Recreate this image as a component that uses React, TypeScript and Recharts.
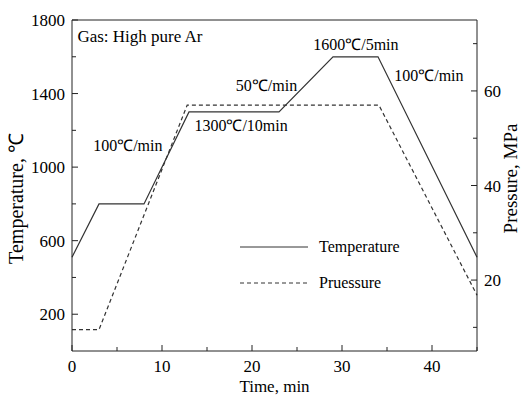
import {
    LineChart,
    Line,
    XAxis,
    YAxis,
    ReferenceLine,
    ReferenceDot,
    Legend,
} from 'recharts';

// Heating schedule (time in min, temperature in ℃)
const tempTime = [0, 3, 8, 13, 23, 29, 34, 45];
const tempValue = [510, 800, 800, 1300, 1300, 1600, 1600, 510];

// Pressure schedule (time in min, pressure in MPa)
const pressTime = [0, 3, 12.8, 34.1, 45];
const pressValue = [9.5, 9.5, 57, 57, 16.8];

const timeTicks = [0, 5, 10, 15, 20, 25, 30, 35, 40, 45];
const tempTicks = [200, 400, 600, 800, 1000, 1200, 1400, 1600, 1800];
const pressTicks = [10, 20, 30, 40, 50, 60, 70];

const seriesNames = ['Temperature', 'Pruessure'];

const annotations = [
    { time: 0.6, temp: 1682, text: 'Gas: High pure Ar', size: 17 },
    { time: 2.35, temp: 1088, text: '100℃/min', size: 16 },
    { time: 13.6, temp: 1196, text: '1300℃/10min', size: 16 },
    { time: 18.2, temp: 1414, text: '50℃/min', size: 16 },
    { time: 26.8, temp: 1637, text: '1600℃/5min', size: 16 },
    { time: 35.8, temp: 1468, text: '100℃/min', size: 16 },
];

const FONT = '"Liberation Serif", "Times New Roman", serif';
const INK = '#222';

const tempData = tempTime.map((t, i) => ({ time: t, temp: tempValue[i] }));
const pressData = pressTime.map((t, i) => ({ time: t, pressure: pressValue[i] }));

// ticks point inward; labels only on the major ones
const XTick = ({ x, y, payload }: any) => {
    const major = payload.value % 10 === 0;
    return (
        <g>
            <line x1={x} x2={x} y1={y} y2={y - (major ? 6 : 4)} stroke={INK} />
            {major && (
                <text x={x} y={y + 21} textAnchor="middle" fontFamily={FONT} fontSize={17} fill="#000">
                    {payload.value}
                </text>
            )}
        </g>
    );
};

const TempTick = ({ x, y, payload }: any) => {
    const major = payload.value % 400 === 200;
    return (
        <g>
            <line x1={x} x2={x + (major ? 6 : 4)} y1={y} y2={y} stroke={INK} />
            {major && (
                <text x={x - 7} y={y + 6} textAnchor="end" fontFamily={FONT} fontSize={17} fill="#000">
                    {payload.value}
                </text>
            )}
        </g>
    );
};

const PressTick = ({ x, y, payload }: any) => {
    const major = payload.value % 20 === 0;
    return (
        <g>
            <line x1={x} x2={x - (major ? 6 : 4)} y1={y} y2={y} stroke={INK} />
            {major && (
                <text x={x + 7} y={y + 6} textAnchor="start" fontFamily={FONT} fontSize={17} fill="#000">
                    {payload.value}
                </text>
            )}
        </g>
    );
};

const LegendBox = ({ payload }: any) => {
    const items = [...(payload || [])].sort(
        (a: any, b: any) => seriesNames.indexOf(a.value) - seriesNames.indexOf(b.value)
    );
    return (
        <div style={{ fontFamily: FONT, fontSize: 16, color: '#000' }}>
            {items.map((entry: any) => (
                <div key={entry.value} style={{ display: 'flex', alignItems: 'center', height: 20, marginBottom: 16 }}>
                    <svg width={68} height={20}>
                        <line
                            x1={0}
                            x2={68}
                            y1={10}
                            y2={10}
                            stroke={entry.color}
                            strokeDasharray={entry.payload?.strokeDasharray}
                        />
                    </svg>
                    <span style={{ marginLeft: 11 }}>{entry.value}</span>
                </div>
            ))}
        </div>
    );
};

export default function App() {
    return (
        <div style={{ position: 'absolute', left: 0, top: 0, background: '#fff' }}>
            <LineChart width={521} height={395} margin={{ top: 20, right: 0, bottom: 0, left: 0 }}>
                <XAxis
                    dataKey="time"
                    type="number"
                    domain={[0, 45]}
                    ticks={timeTicks}
                    interval={0}
                    tick={<XTick />}
                    tickLine={false}
                    tickSize={0}
                    tickMargin={0}
                    height={44}
                    stroke={INK}
                    allowDuplicatedCategory={false}
                    label={(props: any) => {
                        const vb = props.viewBox;
                        return (
                            <text x={vb.x + vb.width / 2} y={vb.y + 41} textAnchor="middle" fontFamily={FONT} fontSize={17} fill="#000">
                                Time, min
                            </text>
                        );
                    }}
                />
                <YAxis
                    yAxisId="temp"
                    orientation="left"
                    domain={[0, 1800]}
                    ticks={tempTicks}
                    interval={0}
                    tick={<TempTick />}
                    tickLine={false}
                    tickSize={0}
                    tickMargin={0}
                    width={72}
                    stroke={INK}
                    label={(props: any) => {
                        const vb = props.viewBox;
                        const cx = vb.x + 16;
                        const cy = vb.y + vb.height / 2 + 13;
                        return (
                            <text x={cx} y={cy} transform={`rotate(-90 ${cx} ${cy})`} textAnchor="middle" dominantBaseline="central" fontFamily={FONT} fontSize={20} fill="#000">
                                Temperature, ℃
                            </text>
                        );
                    }}
                />
                <YAxis
                    yAxisId="press"
                    orientation="right"
                    domain={[5, 75]}
                    ticks={pressTicks}
                    interval={0}
                    tick={<PressTick />}
                    tickLine={false}
                    tickSize={0}
                    tickMargin={0}
                    width={44}
                    stroke={INK}
                    label={(props: any) => {
                        const vb = props.viewBox;
                        const cx = vb.x + 33;
                        const cy = vb.y + vb.height / 2 - 7;
                        return (
                            <text x={cx} y={cy} transform={`rotate(-90 ${cx} ${cy})`} textAnchor="middle" dominantBaseline="central" fontFamily={FONT} fontSize={19} fill="#000">
                                Pressure, MPa
                            </text>
                        );
                    }}
                />

                {/* closing top edge of the frame */}
                <ReferenceLine yAxisId="temp" y={1800} stroke={INK} />

                <Legend
                    layout="vertical"
                    align="center"
                    verticalAlign="middle"
                    width={200}
                    wrapperStyle={{ left: 240, top: 237 }}
                    content={<LegendBox />}
                />

                <Line
                    yAxisId="temp"
                    data={tempData}
                    dataKey="temp"
                    name="Temperature"
                    type="linear"
                    stroke="#333"
                    strokeWidth={1.2}
                    dot={false}
                    isAnimationActive={false}
                />
                <Line
                    yAxisId="press"
                    data={pressData}
                    dataKey="pressure"
                    name="Pruessure"
                    type="linear"
                    stroke="#333"
                    strokeWidth={1.2}
                    strokeDasharray="4 3"
                    dot={false}
                    isAnimationActive={false}
                />

                {annotations.map((a) => (
                    <ReferenceDot
                        key={a.text + a.time}
                        yAxisId="temp"
                        x={a.time}
                        y={a.temp}
                        r={0}
                        ifOverflow="visible"
                        shape={(p: any) => (
                            <text x={p.cx} y={p.cy} textAnchor="start" fontFamily={FONT} fontSize={a.size} fill="#000">
                                {a.text}
                            </text>
                        )}
                    />
                ))}
            </LineChart>
        </div>
    );
}
